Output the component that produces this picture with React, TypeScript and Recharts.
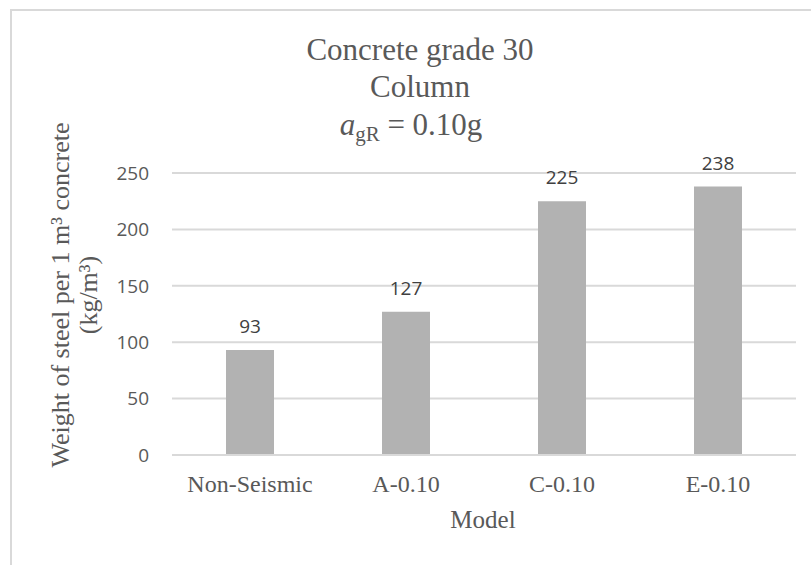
import { BarChart, Bar, XAxis, YAxis, CartesianGrid, LabelList } from 'recharts';

// steel weight per m3 of concrete, by model
const models = ['Non-Seismic', 'A-0.10', 'C-0.10', 'E-0.10'];
const steelWeights = [93, 127, 225, 238];
const yTicks = [0, 50, 100, 150, 200, 250];

const data = models.map((model, i) => ({ model, value: steelWeights[i] }));

const SERIF = '"Liberation Serif", "Times New Roman", serif';
const SANS = '"Open Sans", "Liberation Sans", sans-serif';
const TEXT = '#595959';

function App() {
  return (
    <div style={{ position: 'fixed', left: 0, top: 0, width: 811, height: 565, overflow: 'hidden', background: '#fff' }}>
      <div
        style={{
          position: 'absolute',
          left: 10,
          top: 9,
          width: 840,
          height: 620,
          border: '2px solid #d9d9d9',
          boxSizing: 'border-box',
        }}
      />
      <div style={{ position: 'absolute', left: 0, top: 0 }}>
        <BarChart width={811} height={565} data={data} margin={{ top: 173, right: 15, bottom: 70, left: 0 }}>
          <CartesianGrid vertical={false} stroke="#d9d9d9" strokeWidth={2} />
          <XAxis
            dataKey="model"
            height={40}
            tickLine={false}
            axisLine={{ stroke: '#d9d9d9', strokeWidth: 2 }}
            tickSize={0}
            tickMargin={20}
            tick={{ fill: TEXT, fontSize: 24, fontFamily: SERIF }}
          />
          <YAxis
            width={172}
            domain={[0, 250]}
            ticks={yTicks}
            tickLine={false}
            axisLine={false}
            tickSize={0}
            tickMargin={23}
            tick={{ fill: TEXT, fontSize: 19, fontFamily: SANS }}
          />
          <Bar dataKey="value" fill="#b2b2b2" barSize={48} isAnimationActive={false}>
            <LabelList dataKey="value" position="top" offset={17} fill="#404040" fontSize={19} fontFamily={SANS} />
          </Bar>
        </BarChart>
      </div>
      <svg width={811} height={565} style={{ position: 'absolute', left: 0, top: 0, pointerEvents: 'none' }}>
        <g fontFamily={SERIF} fill={TEXT} textAnchor="middle">
          <text x={420} y={60} fontSize={31}>Concrete grade 30</text>
          <text x={420} y={97} fontSize={31}>Column</text>
          <text x={411} y={135} fontSize={31}>
            <tspan fontStyle="italic">a</tspan>
            <tspan fontSize={21} dy={6}>gR</tspan>
            <tspan dy={-6}> = 0.10g</tspan>
          </text>
          <text x={483} y={528} fontSize={25}>Model</text>
          <g transform="translate(60 295) rotate(-90)">
            <text x={0} y={9} fontSize={26}>Weight of steel per 1 m³ concrete</text>
            <text x={0} y={37} fontSize={26}>(kg/m³)</text>
          </g>
        </g>
      </svg>
    </div>
  );
}

export default App;
